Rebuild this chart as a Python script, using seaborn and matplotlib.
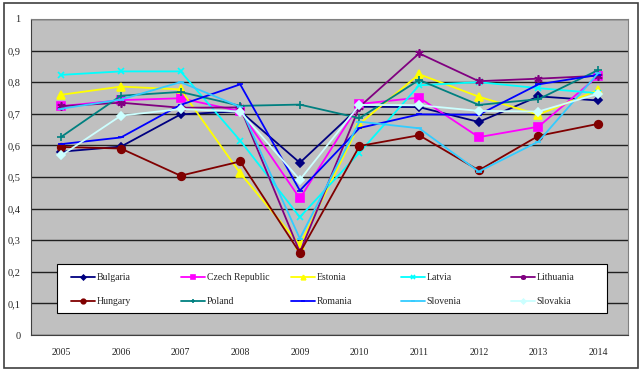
import numpy as np
import pandas as pd
import seaborn as sns
import matplotlib.pyplot as plt
from matplotlib.patches import Rectangle
from matplotlib.ticker import FixedLocator, FuncFormatter

years = ["2005", "2006", "2007", "2008", "2009", "2010", "2011", "2012", "2013", "2014"]

bulgaria = [0.580, 0.596, 0.698, 0.708, 0.545, 0.722, 0.721, 0.674, 0.755, 0.742]
czech = [0.724, 0.743, 0.749, 0.708, 0.432, 0.731, 0.751, 0.626, 0.659, 0.819]
estonia = [0.760, 0.786, 0.777, 0.512, 0.285, 0.668, 0.825, 0.754, 0.697, 0.775]
latvia = [0.823, 0.834, 0.834, 0.615, 0.373, 0.577, 0.790, 0.800, 0.781, 0.765]
lithuania = [0.724, 0.735, 0.719, 0.720, 0.262, 0.722, 0.891, 0.803, 0.811, 0.820]
hungary = [0.595, 0.590, 0.504, 0.549, 0.260, 0.598, 0.632, 0.521, 0.630, 0.668]
poland = [0.627, 0.757, 0.769, 0.725, 0.729, 0.686, 0.807, 0.728, 0.746, 0.838]
romania = [0.604, 0.625, 0.728, 0.793, 0.457, 0.655, 0.698, 0.697, 0.793, 0.823]
slovenia = [0.716, 0.745, 0.800, 0.722, 0.305, 0.675, 0.654, 0.517, 0.612, 0.828]
slovakia = [0.568, 0.694, 0.715, 0.707, 0.491, 0.728, 0.727, 0.709, 0.707, 0.763]

countries = ["Bulgaria", "Czech Republic", "Estonia", "Latvia", "Lithuania",
             "Hungary", "Poland", "Romania", "Slovenia", "Slovakia"]
series = [bulgaria, czech, estonia, latvia, lithuania,
          hungary, poland, romania, slovenia, slovakia]
colors = ["#000080", "#FF00FF", "#FFFF00", "#00FFFF", "#800080",
          "#800000", "#008080", "#0000FF", "#33CCFF", "#CCFFFF"]
markers = ["D", "s", "^", "x", (6, 2, 0), "o", "+", "_", "_", "D"]
msizes = [4, 5.5, 5.5, 5, 6, 5.5, 6, 5, 5, 4]

df = pd.DataFrame({"year": years * len(countries),
                   "idx": list(range(len(years))) * len(countries),
                   "country": np.repeat(countries, len(years)),
                   "value": np.concatenate(series)})

sns.set_style("white")
plt.rcParams["font.family"] = ["Liberation Serif", "DejaVu Serif"]

fig = plt.figure(figsize=(6.42, 3.71), dpi=100)
ax = fig.add_axes([0.049, 0.097, 0.929, 0.852])
ax.set_facecolor("#C0C0C0")

for name, col, mk, ms in zip(countries, colors, markers, msizes):
    sub = df[df["country"] == name]
    sns.lineplot(data=sub, x="idx", y="value", ax=ax, color=col, marker=mk,
                 markersize=ms, markeredgecolor=col, markeredgewidth=1.2,
                 linewidth=1.3, label=name, legend=False)

ax.set_xlim(-0.5, 9.5)
ax.set_ylim(0, 1)
ax.set_xlabel("")
ax.set_ylabel("")

ax.set_yticks(np.arange(0, 1.01, 0.1))
ax.yaxis.set_major_formatter(FuncFormatter(lambda v, p: "0" if v == 0 else ("1" if abs(v - 1) < 1e-9 else f"{v:.1f}".replace(".", ","))))
ax.grid(axis="y", color="#202020", linewidth=1)
ax.set_axisbelow(True)

ax.set_xticks(range(len(years)))
ax.set_xticklabels(years)
ax.xaxis.set_minor_locator(FixedLocator(np.arange(-0.5, 10, 1)))
ax.tick_params(axis="x", which="major", length=0, pad=9, labelsize=7)
ax.tick_params(axis="x", which="minor", length=4, direction="out", color="#404040")
ax.tick_params(axis="y", length=4, direction="out", color="#404040", labelsize=7.5, pad=4)

for s in ["top", "right"]:
    ax.spines[s].set_color("#808080")
for s in ["left", "bottom"]:
    ax.spines[s].set_color("#404040")

# white legend box drawn separately so the entries can be placed freely
ax.add_patch(Rectangle((0.0428, 0.0696), 0.9222, 0.155, transform=ax.transAxes,
                       facecolor="white", edgecolor="black", linewidth=0.8, zorder=4))

# legend is filled column by column, so reorder to read row-wise like the original
handles, labels = ax.get_legend_handles_labels()
order = [0, 5, 1, 6, 2, 7, 3, 8, 4, 9]
handles = [handles[i] for i in order]
labels = [labels[i] for i in order]
leg = ax.legend(handles, labels, ncol=5, loc="upper left",
                bbox_to_anchor=(0.067, 0.195), frameon=False,
                fontsize=7, handlelength=2.4, handletextpad=0.2,
                labelspacing=1.5, borderpad=0, borderaxespad=0, markerscale=0.6)
leg.set_zorder(5)
# equal column widths (110 px each), as in the Excel legend
leg._legend_handle_box.mode = "equal"
leg._legend_handle_box.sep = 0
leg._legend_handle_box.pad = 0
leg._legend_handle_box.set_width(550)

fig.patches.append(Rectangle((0.006, 0.008), 0.988, 0.984, transform=fig.transFigure,
                             fill=False, edgecolor="#404040", linewidth=1.2))

fig.savefig("out.png", dpi=100)
